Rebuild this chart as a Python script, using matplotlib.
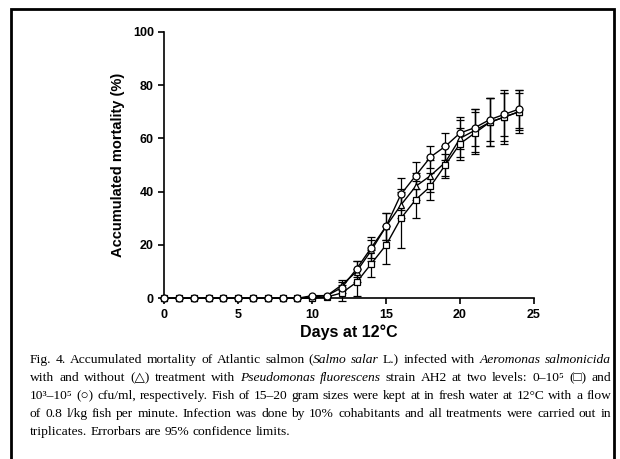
import numpy as np
import matplotlib
matplotlib.use("Agg")
import matplotlib.pyplot as plt
from matplotlib.patches import Rectangle

# Data
days = list(range(25))
zeros10 = [0] * 10

triangle_mean = zeros10 + [0.5, 1, 5, 10, 18, 27, 35, 42, 46, 51, 60, 63, 66, 68, 70]
triangle_err = zeros10 + [0, 0, 2, 4, 4, 5, 5, 5, 6, 6, 7, 8, 9, 9, 8]

square_mean = zeros10 + [0, 0.5, 2, 6, 13, 20, 30, 37, 42, 50, 58, 62, 66, 68, 70]
square_err = zeros10 + [0, 0, 3, 5, 5, 7, 11, 7, 5, 4, 6, 8, 9, 10, 7]

circle_mean = zeros10 + [1, 1, 4, 11, 19, 27, 39, 46, 53, 57, 62, 64, 67, 69, 71]
circle_err = zeros10 + [0, 0, 2, 3, 4, 5, 6, 5, 4, 5, 6, 7, 8, 8, 7]

x_ticks = [0, 5, 10, 15, 20, 25]
y_ticks = [0, 20, 40, 60, 80, 100]

# caption lines: list of (text, italic)
caption = [
    [("Fig. 4. Accumulated mortality of Atlantic salmon (", False), ("Salmo salar", True),
     (" L.) infected with ", False), ("Aeromonas salmonicida", True)],
    [("with and without (\u25b3) treatment with ", False), ("Pseudomonas fluorescens", True),
     (" strain AH2 at two levels: 0\u201310\u2075 (\u25a1) and", False)],
    [("10\u00b3\u201310\u2075 (\u25cb) cfu/ml, respectively. Fish of 15\u201320 gram sizes were kept at in fresh water at 12\u00b0C with a flow", False)],
    [("of 0.8 l/kg fish per minute. Infection was done by 10% cohabitants and all treatments were carried out in", False)],
    [("triplicates. Errorbars are 95% confidence limits.", False)],
]

W, H = 620, 459
fig = plt.figure(figsize=(W / 100, H / 100), dpi=100)
fig.patch.set_facecolor("white")

ax = fig.add_axes([164.3 / W, 1 - 298.3 / H, (534 - 164.3) / W, (298.3 - 31.7) / H])

series = [
    (triangle_mean, triangle_err, "^"),
    (square_mean, square_err, "s"),
    (circle_mean, circle_err, "o"),
]
for mean, err, mk in series:
    ax.errorbar(days, mean, yerr=err, color="black", lw=1, elinewidth=0.9,
                capsize=3, capthick=0.9, marker=mk, markersize=5,
                markerfacecolor="white", markeredgecolor="black",
                markeredgewidth=0.9, clip_on=False, zorder=3)

ax.set_xlim(0, 25)
ax.set_ylim(0, 100)
ax.set_xticks(x_ticks)
ax.set_yticks(y_ticks)
for s in ["top", "right"]:
    ax.spines[s].set_visible(False)
for s in ["left", "bottom"]:
    ax.spines[s].set_linewidth(1.2)
ax.tick_params(direction="out", length=4, width=1.2, labelsize=9)
for lab in ax.get_xticklabels() + ax.get_yticklabels():
    lab.set_fontfamily("Liberation Sans")
    lab.set_fontweight("bold")

ax.set_xlabel("Days at 12\u00b0C", fontsize=11.5, fontweight="bold",
              fontfamily="Liberation Sans", labelpad=3)
ax.set_ylabel("Accumulated mortality (%)", fontsize=10.5, fontweight="bold",
              fontfamily="Liberation Sans", labelpad=6)

# frame around the figure
fig.patches.append(Rectangle((11 / W, -0.01), (614 - 11) / W, 1 - 9 / H + 0.01,
                             transform=fig.transFigure, fill=False,
                             edgecolor="black", lw=2))

# justified caption
renderer = fig.canvas.get_renderer()
left_px, right_px = 30, 611
top_px, step_px = 360, 18
serif = ["Liberation Serif", "DejaVu Serif", "DejaVu Sans"]
cap_size = 9.7


def piece_width(txt, italic):
    t = fig.text(0, 0, txt, fontsize=cap_size, family=serif,
                 style="italic" if italic else "normal")
    w = t.get_window_extent(renderer).width
    t.remove()
    return w


space_w = piece_width("a b", False) - piece_width("ab", False)

for i, line in enumerate(caption):
    # words made of one or more (text, italic) pieces
    words = [[]]
    for text, italic in line:
        parts = text.split(" ")
        for k, p in enumerate(parts):
            if k > 0:
                words.append([])
            if p:
                words[-1].append((p, italic))
    words = [wd for wd in words if wd]
    widths = [[piece_width(p, it) for p, it in wd] for wd in words]
    total = sum(sum(w) for w in widths)
    last = i == len(caption) - 1
    if last:
        gap = space_w
    else:
        gap = (right_px - left_px - total) / (len(words) - 1)
    x = left_px
    y = 1 - (top_px + i * step_px) / H
    for wd, ws in zip(words, widths):
        for (p, it), w in zip(wd, ws):
            fig.text(x / W, y, p, fontsize=cap_size, family=serif,
                     style="italic" if it else "normal", va="center")
            x += w
        x += gap

fig.savefig("out.png", dpi=100)
